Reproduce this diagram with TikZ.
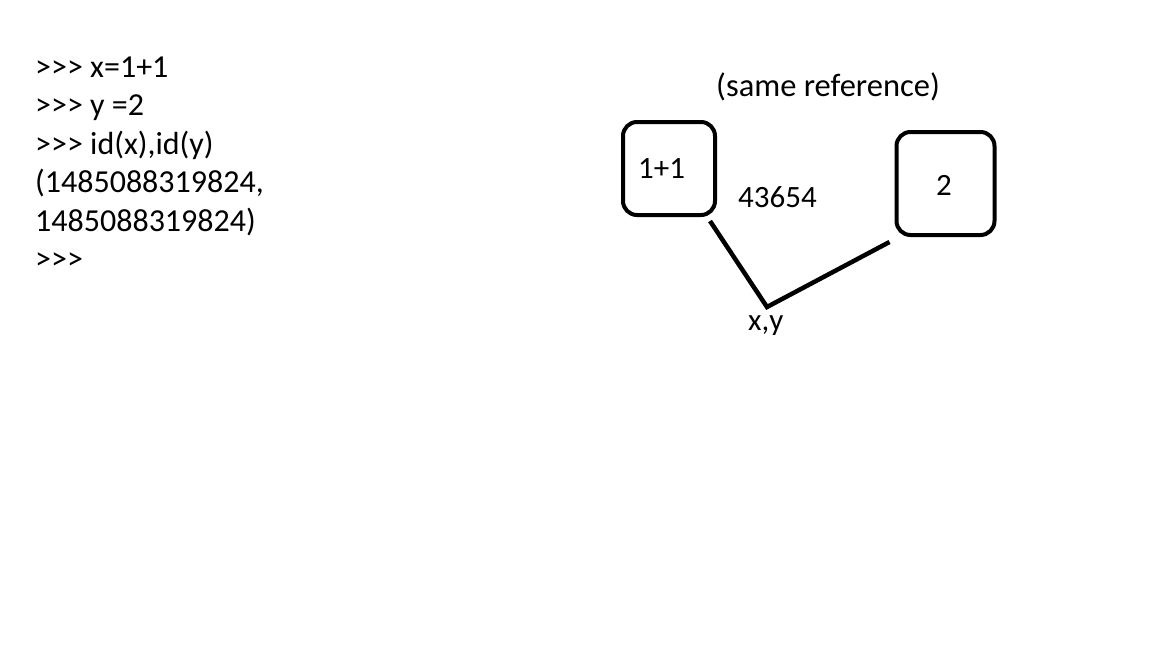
\documentclass[tikz,border=0pt]{standalone}
\usepackage{fontspec}
\setmainfont{Carlito}[Ligatures=TeXOff]
\usetikzlibrary{calc}
\begin{document}
\begin{tikzpicture}[x=1pt,y=-1pt,
  code/.style={anchor=base west,inner sep=0pt,font=\fontsize{32}{38}\selectfont},
  lbl/.style={anchor=base west,inner sep=0pt,font=\fontsize{31}{37}\selectfont},
  objbox/.style={draw,line width=4pt,rounded corners=14pt,inner sep=0pt},
  link/.style={line width=4.5pt}]
\useasboundingbox[fill=white] (0,0) rectangle (1152,648);
\node[code] (l1) at (35,77) {>>> x=1+1};
\node[code] (l2) at (35,115.5) {>>> y =2};
\node[code] (l3) at (35,154) {>>> id(x),id(y)};
\node[code] (l4) at (35,192.5) {(1485088319824,};
\node[code] (l5) at (35,231) {1485088319824)};
\node[code] (l6) at (35,269.5) {>>>};
\node[lbl,font=\fontsize{32.5}{38}\selectfont] (same) at (716,96) {(same reference)};
\node[objbox,minimum width=92pt,minimum height=93pt] (b1) at (669,168.5) {};
\node[objbox,minimum width=98pt,minimum height=103pt] (b2) at (945.5,183.5) {};
\node[lbl] (t1) at (638,178) {1+1};
\node[lbl] (t2) at (936,195) {2};
\node[lbl] (addr) at (738,207) {43654};
\coordinate (v) at (767,307);
\node[lbl] (xy) at (748,330) {x,y};
\draw[link] ($(b1.south east)+(-7,4)$) -- (v) -- ($(b2.south west)+(-5,5)$);
\end{tikzpicture}
\end{document}
